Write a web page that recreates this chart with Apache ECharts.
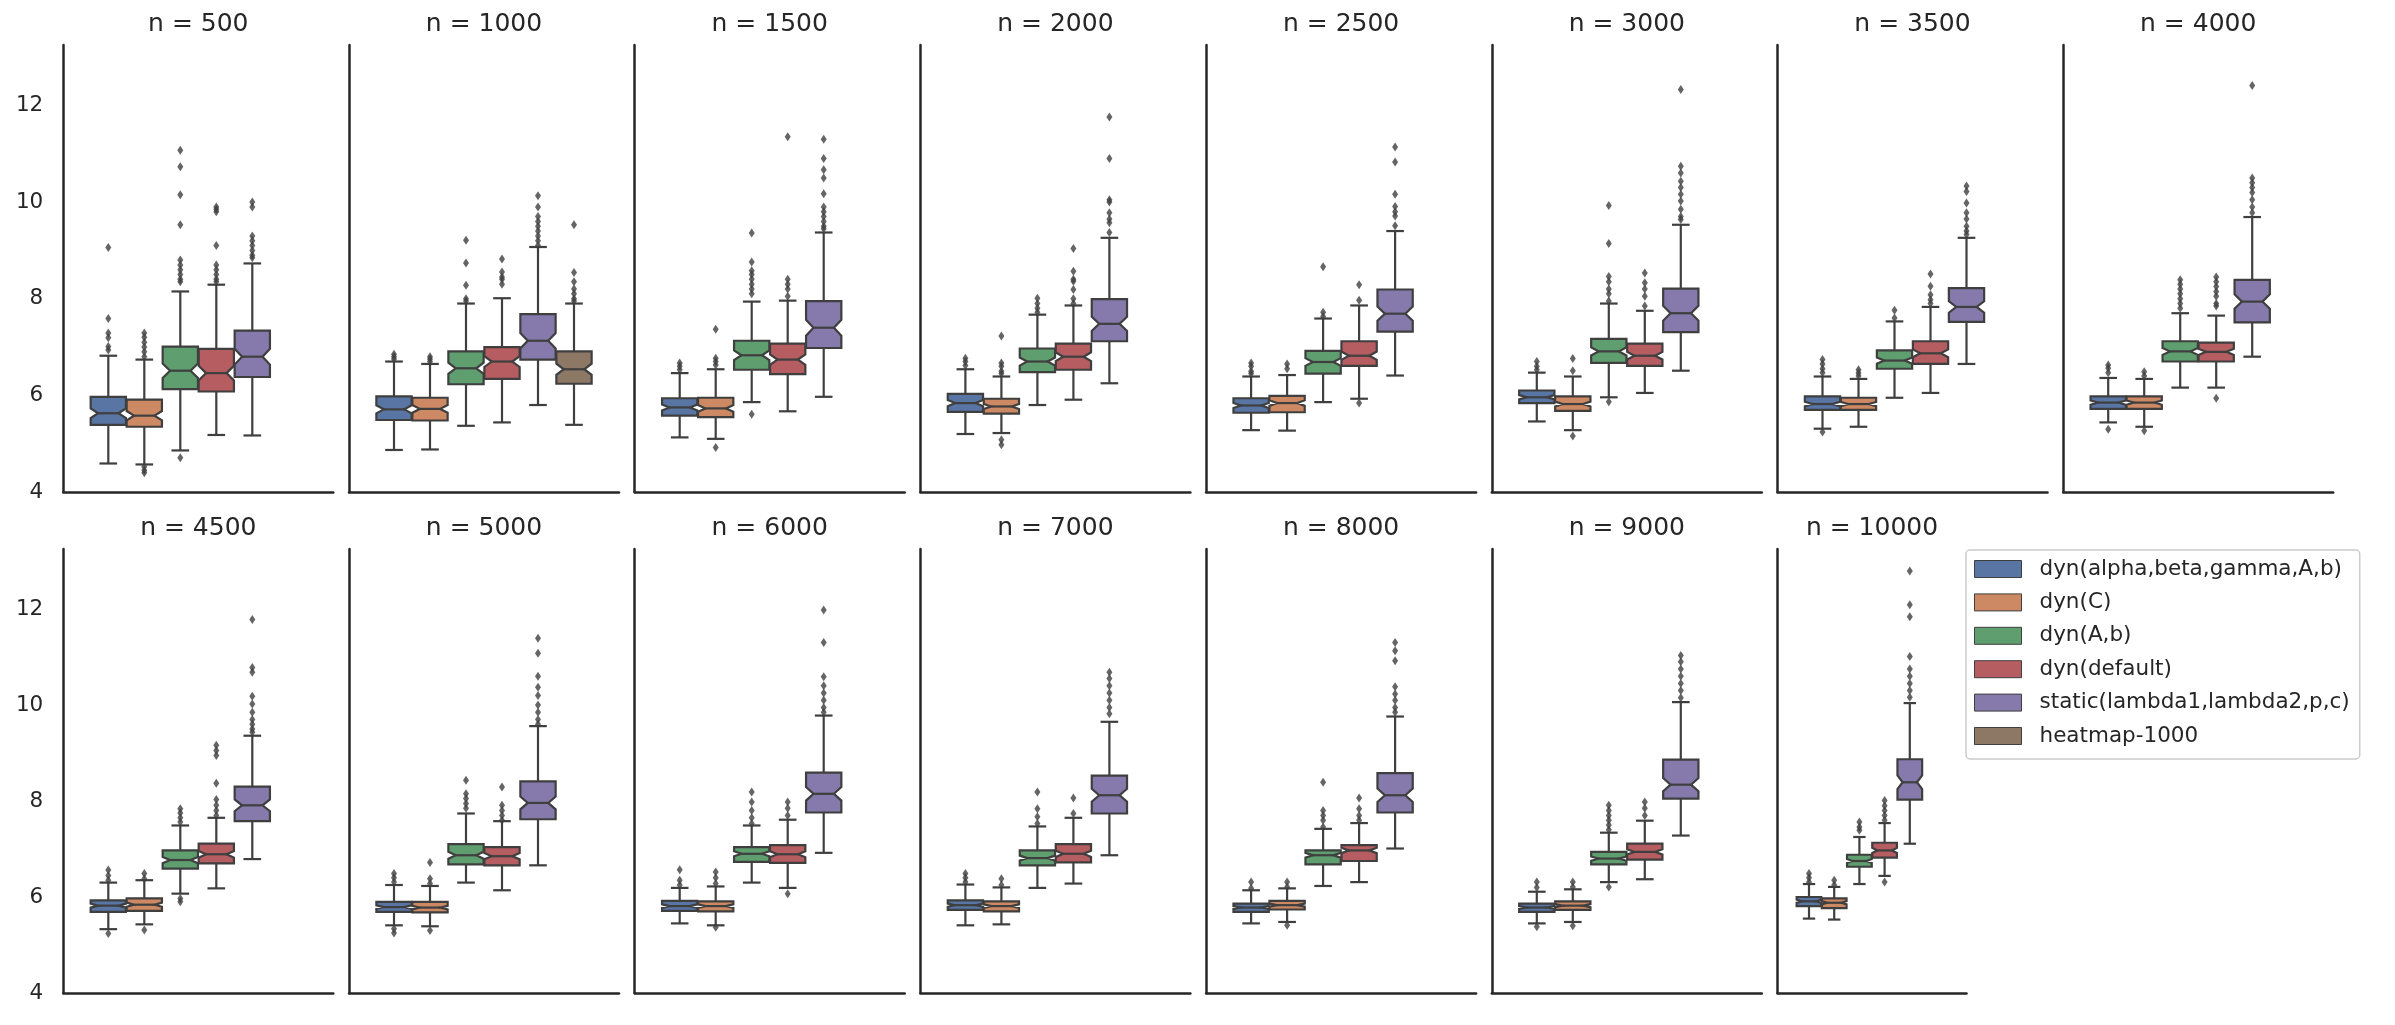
<!DOCTYPE html>
<html>
<head>
<meta charset="utf-8">
<title>boxplots per n</title>
<script src="https://cdn.jsdelivr.net/npm/echarts/dist/echarts.min.js"></script>
<style>
  html, body { margin: 0; padding: 0; background: #fff; }
  #chart { width: 2395px; height: 1025px; }
</style>
</head>
<body>
<div id="chart"></div>
<script>
// facet titles
const panelTitles = ['n = 500', 'n = 1000', 'n = 1500', 'n = 2000', 'n = 2500', 'n = 3000', 'n = 3500', 'n = 4000',
                     'n = 4500', 'n = 5000', 'n = 6000', 'n = 7000', 'n = 8000', 'n = 9000', 'n = 10000'];
const hueNames = ['dyn(alpha,beta,gamma,A,b)', 'dyn(C)', 'dyn(A,b)', 'dyn(default)', 'static(lambda1,lambda2,p,c)', 'heatmap-1000'];
const yTicks = [4, 6, 8, 10, 12];

// [whisker low, Q1, median, Q3, whisker high], one entry per panel
const statsDynAll = [
  [4.59, 5.39, 5.63, 5.97, 6.82], [4.87, 5.49, 5.71, 5.98, 6.70], [5.13, 5.58, 5.75, 5.94, 6.46], [5.20, 5.66, 5.84, 6.03, 6.54],
  [5.28, 5.64, 5.79, 5.94, 6.39], [5.46, 5.84, 5.96, 6.10, 6.47], [5.31, 5.70, 5.82, 5.98, 6.39], [5.44, 5.72, 5.85, 5.98, 6.36],
  [5.33, 5.69, 5.82, 5.93, 6.30], [5.41, 5.69, 5.79, 5.90, 6.25], [5.45, 5.71, 5.81, 5.92, 6.19], [5.41, 5.73, 5.83, 5.93, 6.26],
  [5.45, 5.69, 5.78, 5.86, 6.14], [5.45, 5.69, 5.78, 5.86, 6.11], [5.55, 5.81, 5.91, 6.00, 6.27]
];
const statsDynC = [
  [4.57, 5.35, 5.58, 5.91, 6.74], [4.88, 5.48, 5.72, 5.95, 6.65], [5.10, 5.55, 5.73, 5.95, 6.54], [5.22, 5.62, 5.77, 5.93, 6.39],
  [5.27, 5.65, 5.84, 5.99, 6.42], [5.28, 5.68, 5.82, 5.98, 6.39], [5.35, 5.70, 5.82, 5.95, 6.34], [5.35, 5.72, 5.85, 5.98, 6.34],
  [5.43, 5.71, 5.84, 5.97, 6.35], [5.39, 5.68, 5.78, 5.90, 6.23], [5.41, 5.70, 5.81, 5.91, 6.22], [5.43, 5.70, 5.81, 5.91, 6.20],
  [5.48, 5.74, 5.83, 5.92, 6.18], [5.48, 5.73, 5.82, 5.91, 6.16], [5.53, 5.77, 5.88, 5.97, 6.21]
];
const statsDynAb = [
  [4.86, 6.13, 6.51, 7.01, 8.15], [5.37, 6.23, 6.56, 6.91, 7.90], [5.86, 6.53, 6.83, 7.13, 7.94], [5.80, 6.48, 6.70, 6.97, 7.67],
  [5.86, 6.45, 6.69, 6.92, 7.59], [5.96, 6.67, 6.91, 7.17, 7.90], [5.95, 6.55, 6.72, 6.93, 7.53], [6.16, 6.70, 6.91, 7.12, 7.70],
  [6.07, 6.59, 6.77, 6.97, 7.49], [6.30, 6.68, 6.87, 7.10, 7.74], [6.30, 6.73, 6.90, 7.04, 7.49], [6.19, 6.66, 6.81, 6.97, 7.47],
  [6.23, 6.68, 6.87, 6.97, 7.42], [6.31, 6.68, 6.80, 6.94, 7.34], [6.27, 6.63, 6.75, 6.88, 7.25]
];
const statsDynDefault = [
  [5.18, 6.08, 6.46, 6.96, 8.29], [5.44, 6.34, 6.70, 7.00, 8.01], [5.67, 6.44, 6.74, 7.07, 7.96], [5.91, 6.53, 6.80, 7.07, 7.86],
  [5.93, 6.61, 6.82, 7.12, 7.86], [6.05, 6.61, 6.82, 7.07, 7.75], [6.05, 6.65, 6.87, 7.12, 7.83], [6.16, 6.70, 6.90, 7.09, 7.65],
  [6.18, 6.70, 6.89, 7.11, 7.65], [6.14, 6.66, 6.85, 7.04, 7.58], [6.19, 6.71, 6.89, 7.08, 7.61], [6.28, 6.72, 6.90, 7.10, 7.65],
  [6.31, 6.75, 6.97, 7.08, 7.54], [6.37, 6.78, 6.94, 7.11, 7.59], [6.44, 6.82, 6.97, 7.13, 7.54]
];
const statsStatic = [
  [5.17, 6.38, 6.80, 7.34, 8.73], [5.80, 6.74, 7.13, 7.68, 9.07], [5.97, 6.98, 7.40, 7.95, 9.37], [6.25, 7.12, 7.48, 7.99, 9.26],
  [6.41, 7.32, 7.69, 8.19, 9.40], [6.51, 7.31, 7.70, 8.21, 9.53], [6.65, 7.52, 7.83, 8.22, 9.26], [6.80, 7.51, 7.94, 8.39, 9.69],
  [6.79, 7.58, 7.91, 8.30, 9.36], [6.66, 7.62, 7.96, 8.41, 9.56], [6.92, 7.76, 8.15, 8.59, 9.78], [6.87, 7.74, 8.12, 8.53, 9.65],
  [7.01, 7.76, 8.12, 8.58, 9.76], [7.28, 8.05, 8.34, 8.86, 10.06], [7.11, 8.03, 8.39, 8.87, 10.04]
];
const statsHeatmap = [
  null, [5.39, 6.24, 6.54, 6.91, 7.90], null, null, null, null, null, null,
  null, null, null, null, null, null, null
];

// outlier values, one list per panel
const outDynAll = [
  [9.06, 7.59, 7.29, 7.19, 7.01, 6.94], [6.85, 6.80, 6.75], [6.67, 6.60, 6.53], [6.77, 6.70, 6.62],
  [6.67, 6.60, 6.50, 6.45], [6.70, 6.60, 6.53], [6.74, 6.65, 6.55, 6.47, 5.24], [6.63, 6.56, 6.47, 5.30],
  [6.56, 6.45, 6.35, 5.24], [6.49, 6.40, 6.31, 5.34, 5.25], [6.57, 6.35, 6.25], [6.49, 6.40, 6.31],
  [6.31, 6.18], [6.31, 6.20, 5.38], [6.49, 6.40, 6.31]
];
const outDynC = [
  [7.29, 7.20, 7.10, 7.00, 6.90, 6.80, 4.52, 4.45, 4.40], [6.80, 6.75, 6.70], [7.37, 6.77, 6.70, 6.63, 4.92], [7.23, 6.67, 6.60, 6.50, 6.45, 5.08, 4.98],
  [6.65, 6.55], [6.76, 6.51, 5.16], [6.53, 6.46, 6.40], [6.49, 6.40, 5.27],
  [6.49, 6.38, 5.31], [6.72, 6.38, 6.28, 5.30], [6.52, 6.40, 6.28, 5.37], [6.38, 6.25],
  [6.31, 6.21, 5.41], [6.31, 6.21, 5.40], [6.35, 6.25]
];
const outDynAb = [
  [11.07, 10.73, 10.15, 9.53, 8.80, 8.70, 8.60, 8.50, 8.40, 8.35, 4.71], [9.21, 8.74, 8.28, 8.00, 7.95],
  [9.36, 8.76, 8.58, 8.50, 8.40, 8.30, 8.20, 8.10, 5.61], [8.01, 7.90, 7.80, 7.72],
  [8.66, 7.72, 7.63], [9.93, 9.14, 8.46, 8.35, 8.20, 8.10, 7.95, 5.87], [7.76, 7.60], [8.39, 8.30, 8.20, 8.10, 8.00, 7.90, 7.80],
  [7.84, 7.75, 7.65, 7.56, 5.97, 5.90], [8.43, 8.15, 8.05, 7.95, 7.85], [8.19, 7.98, 7.80, 7.65, 7.53], [8.19, 7.84, 7.67, 7.53],
  [8.39, 7.80, 7.70, 7.60, 7.46], [7.91, 7.80, 7.70, 7.60, 7.50, 7.40, 6.21], [7.56, 7.46, 7.39]
];
const outDynDefault = [
  [9.90, 9.85, 9.80, 9.10, 8.70, 8.60, 8.50, 8.40, 8.35], [8.82, 8.55, 8.45, 8.40, 8.30], [11.35, 8.40, 8.30, 8.20, 8.05],
  [9.04, 8.57, 8.40, 8.36, 8.19, 8.00, 7.90], [8.29, 7.97, 5.84], [8.53, 8.33, 8.20, 8.05, 7.85], [8.51, 8.26, 8.08, 7.98, 7.90],
  [8.45, 8.35, 8.25, 8.15, 8.05, 7.90, 7.85, 5.94], [9.16, 9.05, 8.95, 8.37, 8.03, 7.91, 7.80, 7.70], [8.29, 7.91, 7.80, 7.70, 7.60],
  [7.98, 7.85, 7.70, 6.07], [8.06, 7.74], [8.06, 7.84, 7.70, 7.60], [7.98, 7.85, 7.70], [8.01, 7.90, 7.80, 7.70, 7.60, 6.31]
];
const outStatic = [
  [10.00, 9.90, 9.30, 9.20, 9.10, 9.00, 8.90, 8.85], [10.13, 9.90, 9.70, 9.60, 9.50, 9.40, 9.30, 9.20, 9.10],
  [11.30, 10.90, 10.67, 10.50, 10.17, 9.90, 9.80, 9.70, 9.60, 9.50, 9.45], [11.76, 10.90, 10.05, 10.00, 9.78, 9.65, 9.57, 9.37],
  [11.14, 10.83, 10.16, 9.91, 9.80, 9.71, 9.51], [12.33, 10.74, 10.60, 10.43, 10.30, 10.16, 10.02, 9.85, 9.70, 9.64],
  [10.33, 10.22, 9.98, 9.78, 9.65, 9.50, 9.40, 9.33], [12.41, 10.50, 10.40, 10.30, 10.20, 10.05, 9.90, 9.78],
  [11.78, 10.78, 10.68, 10.18, 10.02, 9.85, 9.70, 9.60, 9.50, 9.43], [11.39, 11.08, 10.60, 10.37, 10.20, 10.00, 9.85, 9.70, 9.60],
  [11.98, 11.30, 10.59, 10.40, 10.25, 10.10, 9.95, 9.85], [10.68, 10.55, 10.40, 10.25, 10.10, 9.95, 9.82],
  [11.30, 11.13, 10.92, 10.38, 10.23, 10.10, 9.95, 9.85], [11.03, 10.90, 10.75, 10.60, 10.45, 10.30, 10.15],
  [12.79, 12.09, 11.84, 11.01, 10.75, 10.60, 10.45, 10.30, 10.16]
];
const outHeatmap = [
  [], [9.53, 8.54, 8.35, 8.20, 8.10, 8.00, 7.95], [], [], [], [], [], [],
  [], [], [], [], [], [], []
];

const hueStats = [statsDynAll, statsDynC, statsDynAb, statsDynDefault, statsStatic, statsHeatmap];
const hueOutliers = [outDynAll, outDynC, outDynAb, outDynDefault, outStatic, outHeatmap];

// styling
const hueColors = ['#5875a4', '#cc8963', '#5f9e6e', '#b55d60', '#857aab', '#8d7866'];
const FONT = 'DejaVu Sans';
const TEXT = '#262626';
const EDGE = '#3f3f3f';
const LW = 2.2;
const SLOT = 0.8 / hueNames.length;   // seaborn dodge width
const BOX_W = SLOT * 0.98;
const NOTCH = 0.17;                    // notch half height as part of the IQR

const ROW_TOP = [45, 549];
const ROW_H = [447, 444];
const COL_X0 = 63.3, COL_STEP = 285.7, PANEL_W = 270;

function huePos(k) {
    return (k - (hueNames.length - 1) / 2) * SLOT;
}

// notched box with whiskers, drawn through the axes of its grid
function renderBox(params, api) {
    const pos = api.value(0);
    const lo = api.value(1), q1 = api.value(2), med = api.value(3), q3 = api.value(4), hi = api.value(5);
    const cx = api.coord([pos, med])[0];
    const hw = api.size([BOX_W, 0])[0] / 2;
    const y = v => api.coord([pos, v])[1];
    const nt = NOTCH * (q3 - q1);
    const L = cx - hw, R = cx + hw, ins = hw * 0.42;
    const capW = hw / 2;
    const lineStyle = {stroke: EDGE, lineWidth: LW, fill: null};
    return {
        type: 'group',
        children: [
            {type: 'line', shape: {x1: cx, y1: y(q3), x2: cx, y2: y(hi)}, style: lineStyle},
            {type: 'line', shape: {x1: cx, y1: y(q1), x2: cx, y2: y(lo)}, style: lineStyle},
            {type: 'line', shape: {x1: cx - capW, y1: y(hi), x2: cx + capW, y2: y(hi)}, style: lineStyle},
            {type: 'line', shape: {x1: cx - capW, y1: y(lo), x2: cx + capW, y2: y(lo)}, style: lineStyle},
            {
                type: 'polygon',
                shape: {points: [
                    [L, y(q1)], [R, y(q1)], [R, y(med - nt)], [R - ins, y(med)], [R, y(med + nt)],
                    [R, y(q3)], [L, y(q3)], [L, y(med + nt)], [L + ins, y(med)], [L, y(med - nt)]
                ]},
                style: {fill: api.visual('color'), stroke: EDGE, lineWidth: LW}
            },
            {type: 'line', shape: {x1: L + ins, y1: y(med), x2: R - ins, y2: y(med)}, style: lineStyle}
        ]
    };
}

const grids = [], xAxes = [], yAxes = [], titles = [], series = [];

panelTitles.forEach((t, i) => {
    const row = i < 8 ? 0 : 1;
    const col = i < 8 ? i : i - 8;
    const left = COL_X0 + col * COL_STEP;
    const width = i === panelTitles.length - 1 ? 189 : PANEL_W;   // last facet squeezed by the legend
    grids.push({left: left, top: ROW_TOP[row], width: width, height: ROW_H[row]});
    xAxes.push({
        gridIndex: i, type: 'value', min: -0.5, max: 0.5,
        axisLine: {show: true, onZero: false, lineStyle: {color: TEXT, width: 2.5}},
        axisTick: {show: false}, axisLabel: {show: false}, splitLine: {show: false}
    });
    yAxes.push({
        gridIndex: i, type: 'value', min: yTicks[0], max: 13.25, interval: yTicks[1] - yTicks[0],
        axisLine: {show: true, onZero: false, lineStyle: {color: TEXT, width: 2.5}},
        axisTick: {show: false},
        axisLabel: {show: col === 0, showMaxLabel: false, fontSize: 21.5, color: TEXT, fontFamily: FONT, margin: 20},
        splitLine: {show: false}
    });
    titles.push({
        text: t, left: left + width / 2, top: row === 0 ? 12 : 516, textAlign: 'center', padding: 0,
        textStyle: {fontSize: 25, fontWeight: 'normal', color: TEXT, fontFamily: FONT}
    });

    hueStats.forEach((stats, k) => {
        const s = stats[i];
        if (!s) return;
        series.push({
            type: 'custom', name: hueNames[k], xAxisIndex: i, yAxisIndex: i,
            renderItem: renderBox, itemStyle: {color: hueColors[k]},
            encode: {x: 0, y: [1, 2, 3, 4, 5]},
            data: [[huePos(k)].concat(s)], z: 2
        });
        series.push({
            type: 'scatter', name: 'outliers', xAxisIndex: i, yAxisIndex: i,
            symbol: 'diamond', symbolSize: [6, 9], silent: true,
            itemStyle: {color: EDGE},
            data: hueOutliers[k][i].map(v => [huePos(k), v]), z: 3
        });
    });
});

const chart = echarts.init(document.getElementById('chart'));
chart.setOption({
    animation: false,
    backgroundColor: '#fff',
    title: titles,
    grid: grids,
    xAxis: xAxes,
    yAxis: yAxes,
    legend: {
        orient: 'vertical', left: 1966, top: 550, padding: [6, 10, 10, 8],
        itemGap: 7.4, itemWidth: 47, itemHeight: 17, icon: 'rect', selectedMode: false,
        backgroundColor: '#fff', borderColor: '#cccccc', borderWidth: 1.5, borderRadius: 4,
        formatter: name => '{p|' + name + '}',
        textStyle: {
            fontSize: 21.5, color: TEXT, fontFamily: FONT, lineHeight: 26,
            rich: {p: {padding: [0, 0, 0, 13], fontSize: 21.5, color: TEXT, fontFamily: FONT, lineHeight: 26}}
        },
        data: hueNames.map((n, k) => ({name: n, itemStyle: {color: hueColors[k], borderColor: EDGE, borderWidth: 1}}))
    },
    series: series
});
</script>
</body>
</html>
